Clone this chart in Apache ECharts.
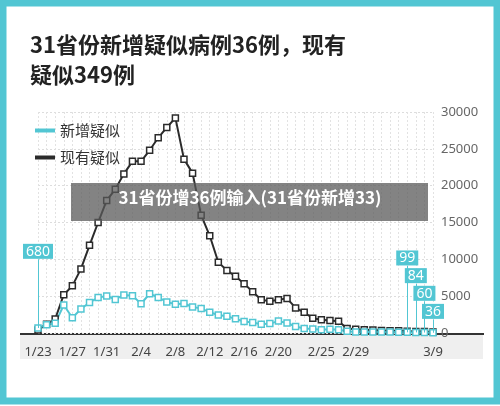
<!DOCTYPE html>
<html><head><meta charset="utf-8">
<script src="https://cdn.jsdelivr.net/npm/echarts@6/dist/echarts.min.js"></script>
<style>html,body{margin:0;padding:0;background:#fff}#c{width:500px;height:406px}</style>
</head><body><div id="c"></div>
<script>
const dates = ['1/23','1/24','1/25','1/26','1/27','1/28','1/29','1/30','1/31','2/1','2/2','2/3','2/4','2/5','2/6','2/7','2/8','2/9','2/10','2/11','2/12','2/13','2/14','2/15','2/16','2/17','2/18','2/19','2/20','2/21','2/22','2/23','2/24','2/25','2/26','2/27','2/28','2/29','3/1','3/2','3/3','3/4','3/5','3/6','3/7','3/8','3/9'];
const shownLabels = ['1/23','1/27','1/31','2/4','2/8','2/12','2/16','2/20','2/25','2/29','3/9'];
const newSuspected = [680,1118,1309,3806,2077,3248,4148,4812,5019,4562,5173,5072,3971,5328,4833,4214,3916,4008,3536,3342,2807,2450,2277,1918,1563,1432,1185,1277,1614,1361,882,620,530,439,508,452,248,132,141,129,143,143,102,99,84,60,36];
const existingSuspected = [400,1200,1900,5200,6400,8700,11900,15000,18000,19500,21600,23300,23300,24800,26500,27900,29200,23600,21700,16000,13200,9600,8500,7700,6700,5600,4500,4300,4500,4700,3400,2800,2000,1800,1700,1600,600,500,450,400,350,300,300,250,200,200,150];
const callouts = [['1/23',680,10000],['3/6',99,9100],['3/7',84,6700],['3/8',60,4300],['3/9',36,1850]];

const teal = '#52c6d3', dark = '#2b2b2b';
const chart = echarts.init(document.getElementById('c'));
chart.setOption({
  animation:false,
  graphic:[
    {type:'rect',shape:{x:3,y:3,width:494,height:398},style:{fill:'none',stroke:teal,lineWidth:7}},
    {type:'text',left:30,top:34,style:{text:'31省份新增疑似病例36例，现有',font:'bold 22px "Noto Sans CJK SC"',fill:'#222'}},
    {type:'text',left:30,top:64,style:{text:'疑似349例',font:'bold 22px "Noto Sans CJK SC"',fill:'#222'}},
    {type:'rect',shape:{x:20,y:335,width:463,height:24},style:{fill:'#efefef'}},
    {type:'line',shape:{x1:20,y1:334,x2:484,y2:334},style:{stroke:'#333',lineWidth:2}},
    {type:'rect',z:100,shape:{x:71,y:183,width:357,height:38},style:{fill:'rgba(90,90,90,0.75)'}},
    {type:'text',z:101,left:'center',top:189,style:{text:'31省份增36例输入(31省份新增33)',font:'bold 17px "Noto Sans CJK SC"',fill:'#fff'}}
  ],
  legend:{orient:'vertical',left:30,top:118,itemGap:12,itemWidth:20,itemHeight:4,icon:'path://M0,0H20V4H0Z',
    textStyle:{fontSize:15,color:'#333',fontFamily:'Noto Sans CJK SC'},
    data:[{name:'新增疑似',itemStyle:{color:teal,borderWidth:0}},{name:'现有疑似',itemStyle:{color:dark,borderWidth:0}}]},
  grid:{left:38,right:67,top:112,bottom:73},
  xAxis:{type:'category',data:dates,boundaryGap:false,
    axisLine:{show:false},axisTick:{show:false},
    axisLabel:{interval:0,formatter:v=>shownLabels.includes(v)?v:'',color:'#444',fontSize:13,margin:13,fontFamily:'Noto Sans'},
    splitLine:{show:true,interval:0,lineStyle:{color:'#e2e2e2',type:[2,2]}}},
  yAxis:{type:'value',position:'right',min:0,max:30000,interval:5000,
    axisLine:{show:false},axisTick:{show:false},
    axisLabel:{color:'#666',fontSize:13,margin:8,fontFamily:'Noto Sans',formatter:v=>String(v)},
    splitLine:{lineStyle:{color:'#ddd',type:[2,2]}}},
  series:[
    {name:'现有疑似',type:'line',data:existingSuspected,color:dark,symbol:'rect',symbolSize:6,showAllSymbol:true,
      lineStyle:{width:2,color:dark},itemStyle:{color:'#fff',borderColor:dark,borderWidth:1.5}},
    {name:'新增疑似',type:'line',data:newSuspected,color:teal,symbol:'rect',symbolSize:6,showAllSymbol:true,
      lineStyle:{width:2,color:teal},itemStyle:{color:'#fff',borderColor:teal,borderWidth:1.5},
      markLine:{symbol:'none',silent:true,label:{show:false},lineStyle:{color:teal,width:1,type:'solid'},
        data:callouts.map(c=>[{coord:[c[0],c[1]]},{coord:[c[0],c[2]]}])},
      markPoint:{symbol:'rect',symbolSize:1,itemStyle:{color:'rgba(0,0,0,0)'},
        data:callouts.map(c=>({coord:[c[0],c[2]],value:c[1]})),
        label:{show:true,position:'top',distance:0,formatter:p=>String(p.value),color:'#fff',fontSize:14,
          backgroundColor:teal,padding:[1,3,0,3],fontFamily:'Noto Sans'}}}
  ]
});
</script></body></html>
